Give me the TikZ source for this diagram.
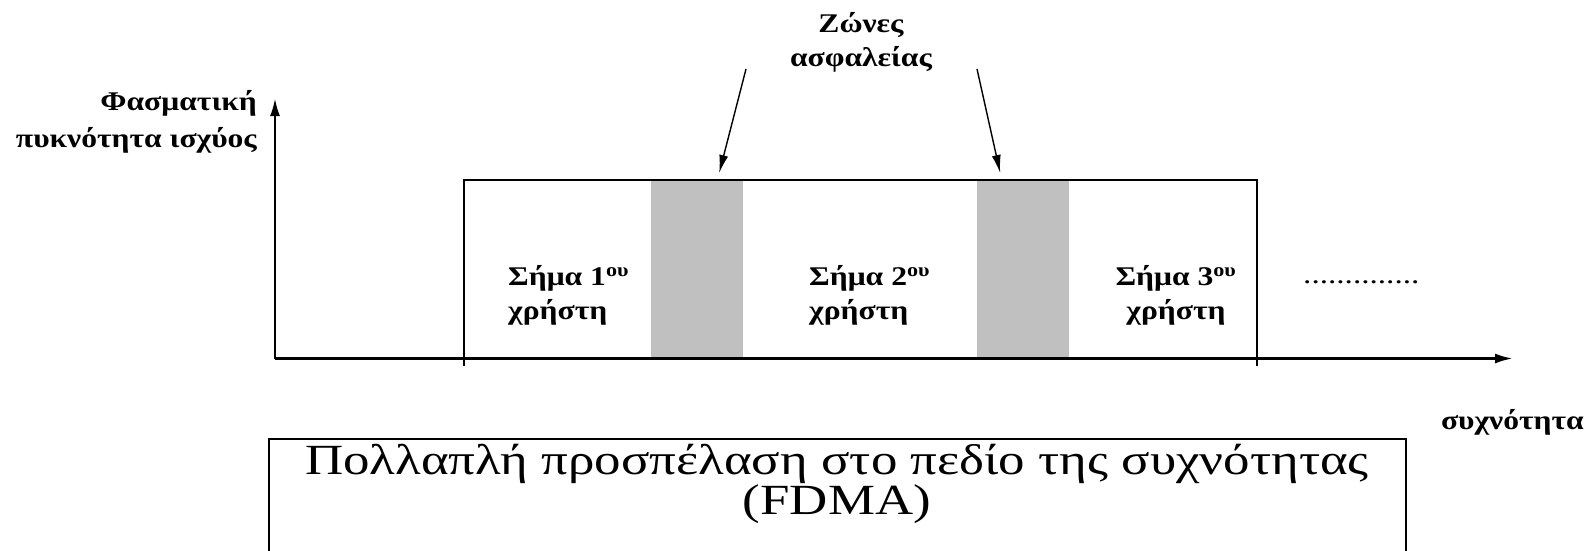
\documentclass[tikz,border=0pt]{standalone}
\usepackage{fontspec}
\setmainfont{Liberation Serif}
\newfontfamily\labelfont{Liberation Serif Bold}[FakeStretch=1.17]
\newfontfamily\titlefont{Liberation Serif}[FakeStretch=1.23]
\usetikzlibrary{arrows.meta,positioning}
\definecolor{guardGray}{RGB}{192,192,192}
\tikzset{font=\labelfont\fontsize{27}{34}\selectfont}
\tikzset{every node/.append style={inner sep=0pt}}
\tikzset{AxisLine/.style={line width=2.6pt,-{Latex[length=18pt,width=10pt]}}}
\tikzset{PointerLine/.style={line width=1.4pt,-{Latex[length=18pt,width=9pt]}}}
\tikzset{GuardBand/.style={fill=guardGray,draw=none,anchor=north west,
    minimum width=92pt,minimum height=178.5pt}}

\begin{document}
\begin{tikzpicture}[x=1pt,y=-1pt]
  \useasboundingbox (0,0) rectangle (1592,551);
  \coordinate (o) at (275,358.5);
  \coordinate (xEnd) at (1513,358.5);
  \coordinate (yEnd) at (275,98);
  % guard bands between the users
  \node[GuardBand] (g1) at (651,180) {};
  \node[GuardBand] (g2) at (977,180) {};
  % occupied band
  \draw[line width=1.6pt] (464,366) |- (1257,180) -- (1257,366);
  \draw[AxisLine] (o) -- (xEnd);
  \draw[AxisLine] (o) -- (yEnd);
  \node[anchor=east,align=right] (psd) at (257,122) {Φασματική\\[3pt]πυκνότητα ισχύος};
  \node[anchor=east] (freq) at (1584,422) {συχνότητα};
  \node[align=center] (zones) at (861,42) {Ζώνες\\ασφαλείας};
  \coordinate (p1) at (746,69);
  \coordinate (p2) at (977,69);
  \draw[PointerLine] (p1) -- ([xshift=22pt,yshift=7pt]g1.north);
  \draw[PointerLine] (p2) -- ([xshift=-23pt,yshift=7pt]g2.north);
  \node[anchor=west,align=left] (u1) at (508,295) {Σήμα 1\textsuperscript{ου}\\χρήστη};
  \node[anchor=west,align=left] (u2) at (809,295) {Σήμα 2\textsuperscript{ου}\\χρήστη};
  \node[align=center] (u3) at (1176,295) {Σήμα 3\textsuperscript{ου}\\χρήστη};
  \node[font=\titlefont\fontsize{27}{34}\selectfont,anchor=west] (more) at (1303,282) {..............};
  % caption box, open at the bottom
  \draw[line width=1.6pt] (269,600) |- (1406,439) -- (1406,600);
  \node[align=center,font=\titlefont\fontsize{43}{37}\selectfont] (title) at (837,484)
    {Πολλαπλή προσπέλαση στο πεδίο της συχνότητας\\(FDMA)};
\end{tikzpicture}
\end{document}
